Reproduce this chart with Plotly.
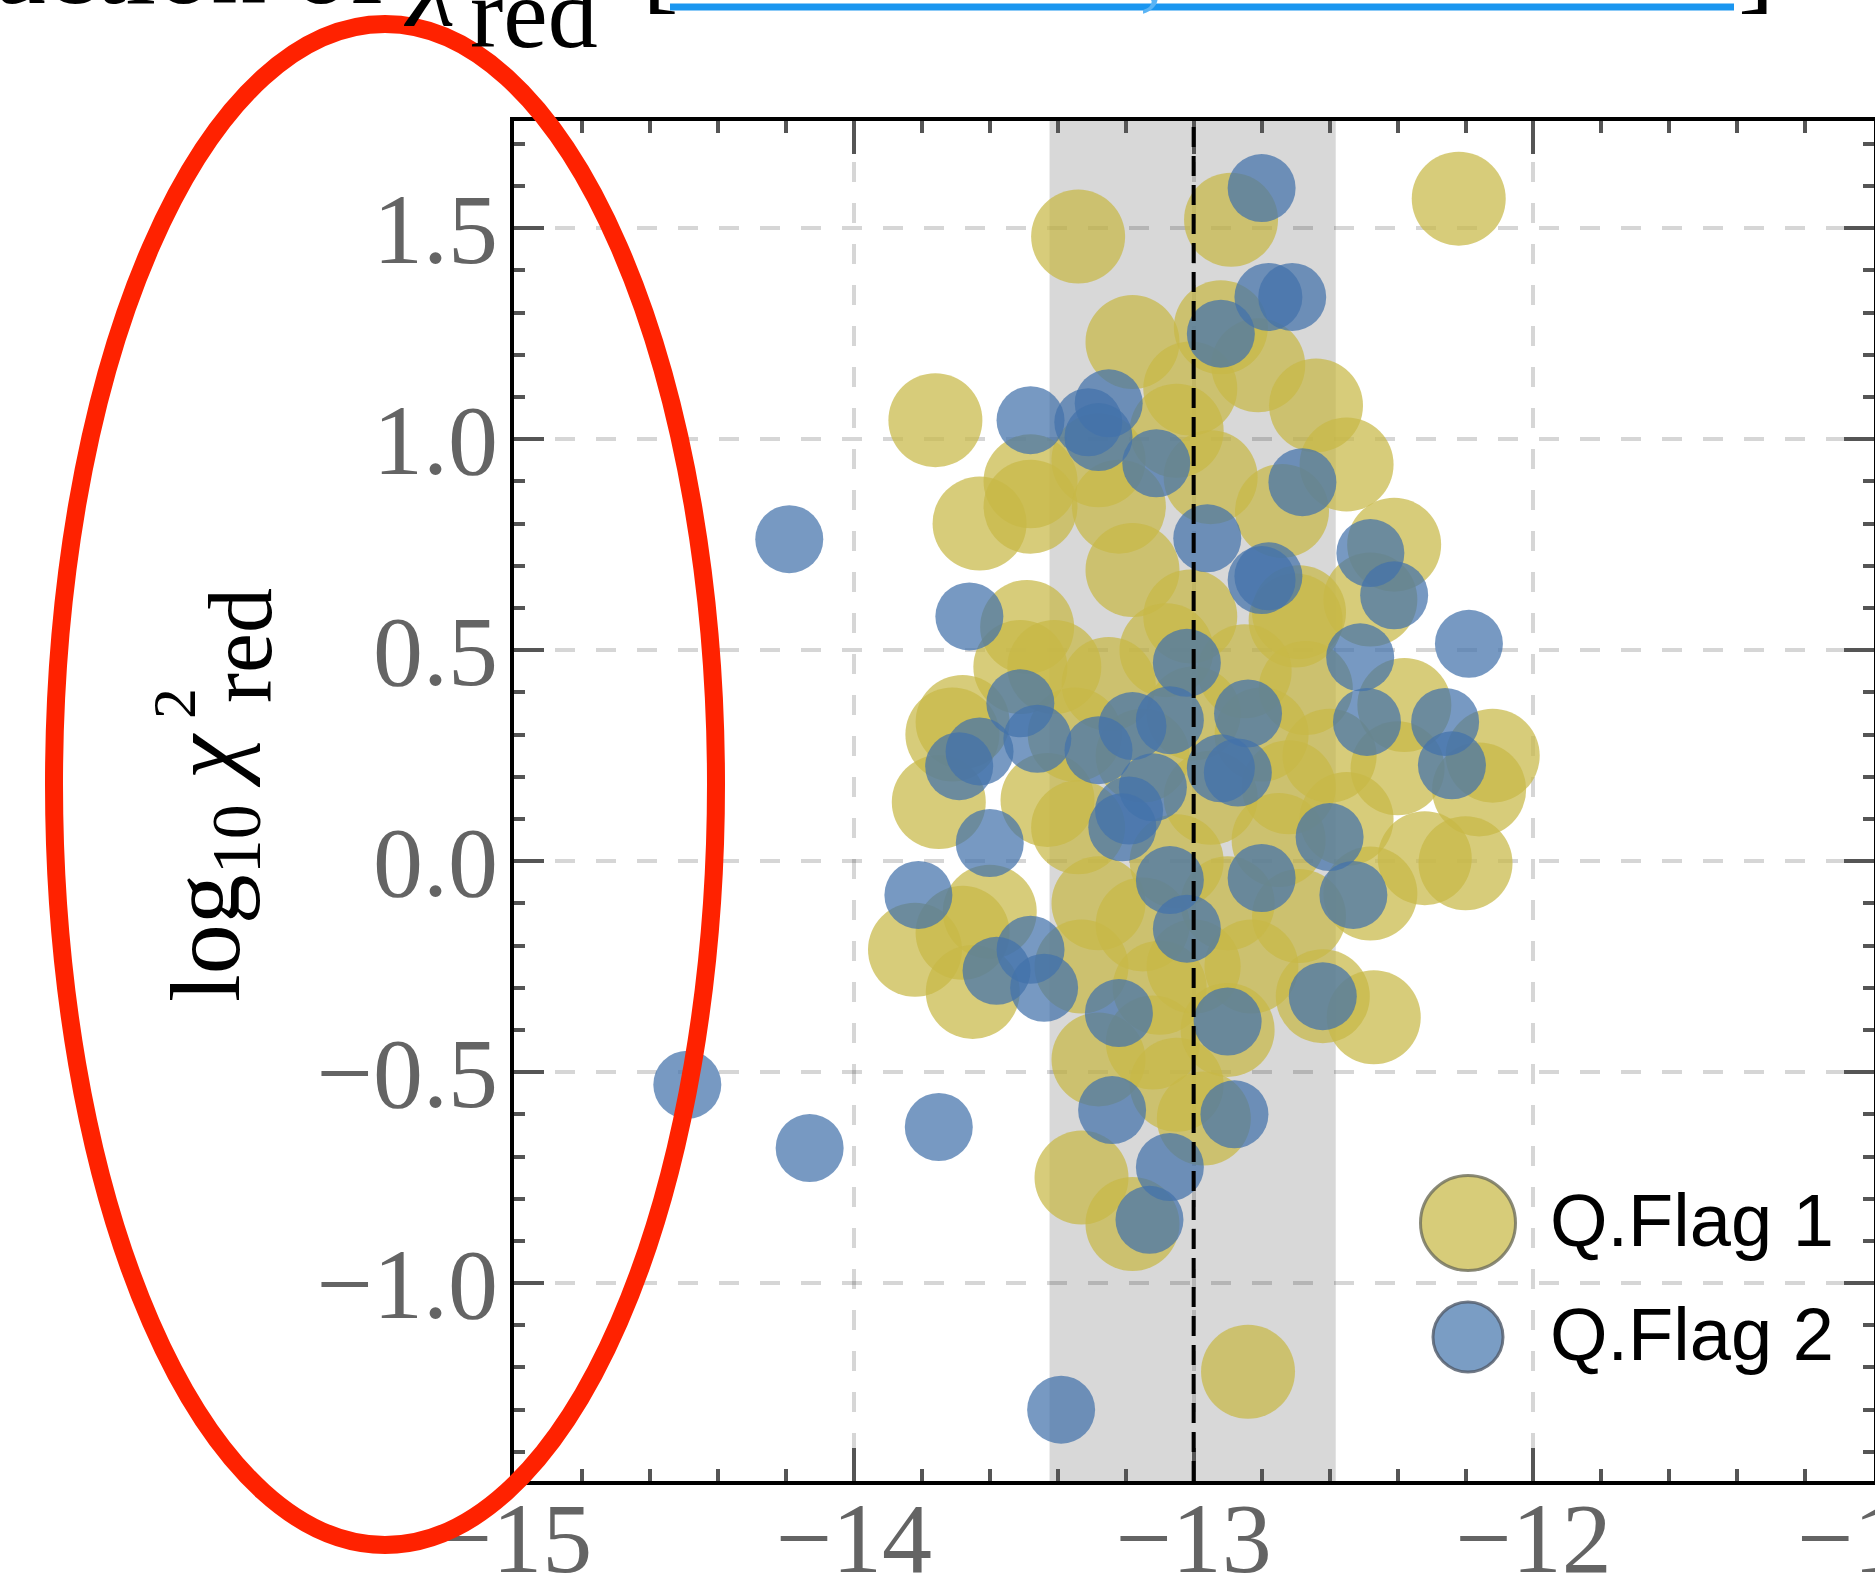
import plotly.graph_objects as go

# ---------------- data ----------------
flag1_x = [-12.22, -13.34, -12.89, -13.18, -12.92, -12.81, -12.64, -13.01, -13.05, -13.76,
           -13.48, -13.28, -12.95, -12.55, -13.63, -13.48, -13.22, -12.74, -12.41, -13.18,
           -12.48, -12.69, -13.01, -12.70, -13.49, -13.51, -13.41, -13.08, -12.67, -12.38,
           -13.68, -12.12, -12.16, -12.40, -13.71, -13.75, -13.43, -13.34, -12.72, -12.32,
           -12.20, -12.48, -13.60, -13.82, -13.68, -13.65, -13.28, -13.33, -13.10, -12.69,
           -12.83, -12.62, -12.47, -13.28, -13.12, -13.05, -12.97, -13.33, -13.18, -12.84,
           -13.00, -12.85, -13.15, -12.95, -12.75, -13.05, -12.90, -13.15, -12.80, -13.00,
           -12.90, -13.35, -13.25, -12.55, -12.60]
flag1_y = [1.57, 1.48, 1.52, 1.23, 1.265, 1.175, 1.08, 1.12, 1.02, 1.045,
           0.90, 0.95, 0.91, 0.94, 0.80, 0.84, 0.84, 0.83, 0.75, 0.69,
           0.62, 0.59, 0.58, 0.57, 0.555, 0.46, 0.46, 0.50, 0.41, 0.37,
           0.33, 0.25, 0.17, 0.22, 0.30, 0.14, 0.145, 0.08, 0.175, 0.007,
           -0.005, -0.077, -0.12, -0.21, -0.17, -0.31, -0.10, -0.25, -0.30, -0.13,
           -0.25, -0.32, -0.37, -0.47, -0.43, -0.53, -0.61, -0.75, -0.86, -1.21,
           0.35, 0.45, 0.25, 0.15, 0.05, 0.00, -0.10, -0.15, 0.30, -0.25,
           -0.40, 0.30, 0.42, 0.10, 0.25]

flag2_x = [-12.80, -12.78, -12.71, -12.92, -13.48, -13.31, -13.25, -13.28, -13.11, -12.68,
           -12.96, -12.80, -12.78, -12.48, -12.41, -12.19, -12.51, -13.66, -14.19, -13.02,
           -13.51, -12.84, -12.49, -12.26, -12.24, -12.87, -13.69, -13.63, -13.46, -13.28,
           -13.18, -13.07, -13.12, -13.19, -13.21, -12.92, -12.60, -12.80, -13.07, -12.53,
           -13.81, -13.60, -13.02, -13.48, -13.58, -13.44, -12.62, -13.22, -12.90, -13.24,
           -12.88, -13.07, -13.13, -13.39, -14.49, -14.13, -13.75]
flag2_y = [1.595, 1.337, 1.337, 1.25, 1.045, 1.04, 1.085, 1.005, 0.943, 0.898,
           0.765, 0.666, 0.675, 0.73, 0.63, 0.515, 0.483, 0.58, 0.763, 0.47,
           0.374, 0.35, 0.33, 0.33, 0.227, 0.21, 0.225, 0.26, 0.29, 0.263,
           0.32, 0.334, 0.175, 0.12, 0.08, 0.22, 0.057, -0.04, -0.045, -0.08,
           -0.08, 0.043, -0.16, -0.21, -0.26, -0.30, -0.32, -0.36, -0.38, -0.59,
           -0.60, -0.725, -0.85, -1.30, -0.53, -0.68, -0.63]

series_names = ["Q.Flag 1", "Q.Flag 2"]
x_ticks = [-15, -14, -13, -12, -11]
y_ticks = [-1.0, -0.5, 0.0, 0.5, 1.0, 1.5]
x_range = [-15, -10.998]
y_range = [-1.469, 1.754]
band_limits = [-13.424, -12.582]
ref_value = -13.0

# ---------------- geometry helpers (pixel -> paper) ----------------
W, H = 1875, 1580
L, R, T, B = 514, 1874, 121, 1481


def px(X):
    return (X - L) / (R - L)


def py(Y):
    return (B - Y) / (B - T)


YELLOW = "rgb(200,185,70)"
BLUE = "rgb(67,113,170)"

fig = go.Figure()
fig.add_trace(go.Scatter(
    x=flag1_x, y=flag1_y, mode="markers", name=series_names[0],
    marker=dict(size=94, color=YELLOW, opacity=0.72, line=dict(width=0)),
    cliponaxis=True, hoverinfo="skip"))
fig.add_trace(go.Scatter(
    x=flag2_x, y=flag2_y, mode="markers", name=series_names[1],
    marker=dict(size=68, color=BLUE, opacity=0.72, line=dict(width=0)),
    cliponaxis=True, hoverinfo="skip"))

serif = "Liberation Serif"
tick_font = dict(family=serif, size=100, color="#646464")
grid = dict(showgrid=True, gridcolor="rgba(0,0,0,0.16)", gridwidth=4,
            griddash="20px,21px", zeroline=False, showline=True,
            linecolor="black", linewidth=4, mirror="ticks",
            ticks="inside", tickwidth=4, tickcolor="#555",
            tickfont=tick_font, automargin=False, ticklabeloverflow="allow")

fig.update_xaxes(range=x_range, tickmode="array", tickvals=x_ticks,
                 ticktext=[f"\u2212{abs(v)}" for v in x_ticks], ticklen=33,
                 ticklabelstandoff=-33,
                 minor=dict(dtick=0.2, tick0=-15, ticks="inside", ticklen=12,
                            tickwidth=4, tickcolor="#555", showgrid=False),
                 **grid)
fig.update_yaxes(range=y_range, tickmode="array", tickvals=y_ticks,
                 ticktext=[("\u2212" if v < 0 else "") + f"{abs(v):.1f}" for v in y_ticks],
                 ticklen=30, ticklabelstandoff=-8,
                 minor=dict(dtick=0.1, tick0=0, ticks="inside", ticklen=11,
                            tickwidth=4, tickcolor="#555", showgrid=False),
                 **grid)

shapes = []
# uncertainty band
shapes.append(dict(type="rect", xref="x", yref="paper", x0=band_limits[0], x1=band_limits[1],
                   y0=0, y1=1, fillcolor="#d8d8d8", line=dict(width=0), layer="below"))
# reference dashed line
shapes.append(dict(type="line", xref="x", yref="paper", x0=ref_value, x1=ref_value,
                   y0=0, y1=1, line=dict(color="black", width=4, dash="20px,9px"),
                   layer="above"))
# legend glyphs
leg_cx = px(1468)
for cy, d, fill, edge in [(1223, 95, "rgb(215,204,121)", "rgba(110,110,90,0.8)"),
                          (1337, 70, "rgb(122,157,196)", "rgba(80,90,105,0.8)")]:
    shapes.append(dict(type="circle", xref="paper", yref="paper",
                       xsizemode="pixel", ysizemode="pixel",
                       xanchor=leg_cx, yanchor=py(cy),
                       x0=-d / 2, x1=d / 2, y0=-d / 2, y1=d / 2,
                       fillcolor=fill, line=dict(color=edge, width=3), layer="above"))
# blue underline of the (cropped) link in the slide title
shapes.append(dict(type="line", xref="paper", yref="paper", x0=px(670), x1=px(1734),
                   y0=py(7), y1=py(7), line=dict(color="#1a96f0", width=7), layer="above"))
# red hand-drawn ellipse
shapes.append(dict(type="circle", xref="paper", yref="paper",
                   x0=px(54), x1=px(716), y0=py(1545), y1=py(24),
                   line=dict(color="#ff2200", width=18), layer="above"))

ann = []
# legend labels
for cy, txt in [(1220, series_names[0]), (1334, series_names[1])]:
    ann.append(dict(xref="paper", yref="paper", x=px(1548), y=py(cy), xanchor="left",
                    yanchor="middle", text=txt, showarrow=False,
                    font=dict(family="Liberation Sans", size=74, color="black")))


def base_center(baseline, size):
    return baseline - 0.3375 * size


# y-axis title pieces (rotated)
ann.append(dict(xref="paper", yref="paper", x=px(212), y=py(867), xanchor="center",
                yanchor="middle", textangle=-90, showarrow=False,
                text="log<sub>10</sub> <i>\u03c7</i>", font=dict(family=serif, size=100, color="black")))
ann.append(dict(xref="paper", yref="paper", x=px(240), y=py(646), xanchor="center",
                yanchor="middle", textangle=-90, showarrow=False,
                text="red", font=dict(family=serif, size=90, color="black")))
ann.append(dict(xref="paper", yref="paper", x=px(174), y=py(704), xanchor="center",
                yanchor="middle", textangle=-90, showarrow=False,
                text="2", font=dict(family=serif, size=62, color="black")))

# cropped slide title at the very top
ann.append(dict(xref="paper", yref="paper", x=px(466), y=py(base_center(3, 110)),
                xanchor="right", yanchor="middle", showarrow=False,
                text="Reduction of <i>\u03c7</i>", font=dict(family=serif, size=110, color="black")))
ann.append(dict(xref="paper", yref="paper", x=px(468), y=py(base_center(47, 100)),
                xanchor="left", yanchor="middle", showarrow=False,
                text="red", font=dict(family=serif, size=100, color="black")))
ann.append(dict(xref="paper", yref="paper", x=px(640), y=py(base_center(-1, 110)),
                xanchor="left", yanchor="middle", showarrow=False,
                text="[", font=dict(family=serif, size=110, color="black")))
ann.append(dict(xref="paper", yref="paper", x=px(668), y=py(base_center(-2, 100)),
                xanchor="left", yanchor="middle", showarrow=False,
                text="Kalari et al., MNRAS 2018", font=dict(family=serif, size=100, color="#5ab4f5")))
ann.append(dict(xref="paper", yref="paper", x=px(1736), y=py(base_center(-1, 110)),
                xanchor="left", yanchor="middle", showarrow=False,
                text="]", font=dict(family=serif, size=110, color="black")))

fig.update_layout(
    width=W, height=H, autosize=False,
    margin=dict(l=L, r=W - R, t=T, b=H - B, pad=0),
    paper_bgcolor="white", plot_bgcolor="white",
    showlegend=False, shapes=shapes, annotations=ann,
)

fig.write_html("out.html", config={"displayModeBar": False},
               post_script="document.body.style.margin='0';document.body.style.overflow='hidden';")
